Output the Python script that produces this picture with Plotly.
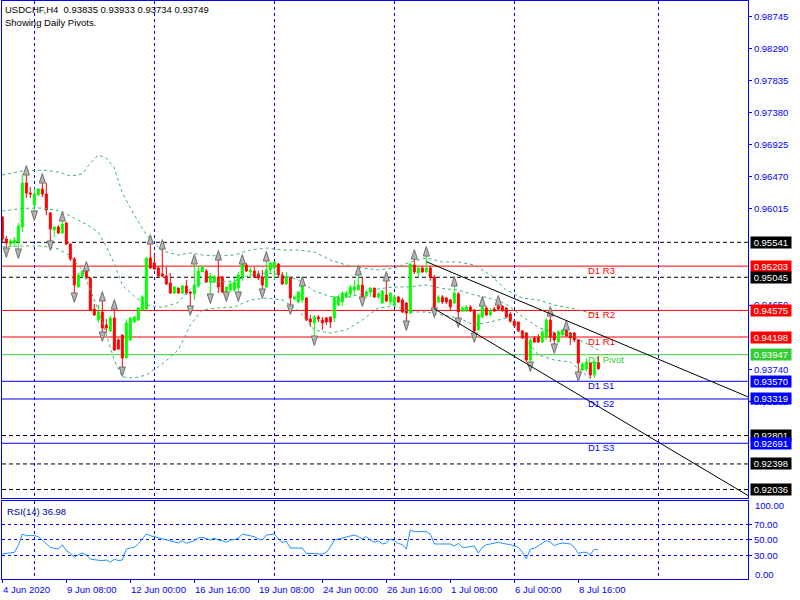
import plotly.graph_objects as go

# ---------------- data ----------------
bar_open = [
    0.95900, 0.95588, 0.95517, 0.95531, 0.95546, 0.95758, 0.96382, 0.96240, 0.96070, 0.96212,
    0.96297, 0.96226, 0.95957, 0.95716, 0.95758, 0.95673, 0.95815, 0.95517, 0.95304, 0.94907,
    0.95064, 0.95134, 0.95035, 0.94595, 0.94439, 0.94553, 0.94369, 0.94283, 0.94468, 0.94156,
    0.94227, 0.93900, 0.94156, 0.94411, 0.94439, 0.94581, 0.94595, 0.95318, 0.95248, 0.95177,
    0.95092, 0.95064, 0.94964, 0.94822, 0.94893, 0.94822, 0.94921, 0.94836, 0.94808, 0.94921,
    0.95120, 0.95134, 0.94978, 0.94978, 0.95049, 0.95049, 0.94837, 0.94865, 0.94865, 0.94893,
    0.95049, 0.95219, 0.95120, 0.95134, 0.95092, 0.95049, 0.94907, 0.95149, 0.95177, 0.95233,
    0.95078, 0.94950, 0.95035, 0.94737, 0.94695, 0.94723, 0.94751, 0.94453, 0.94397, 0.94482,
    0.94439, 0.94468, 0.94482, 0.94468, 0.94652, 0.94695, 0.94765, 0.94808, 0.94865, 0.94865,
    0.94936, 0.94780, 0.94836, 0.94893, 0.94765, 0.94680, 0.94794, 0.94695, 0.94652, 0.94765,
    0.94723, 0.94680, 0.94538, 0.95219, 0.95106, 0.95177, 0.95120, 0.95177, 0.95049, 0.94695,
    0.94765, 0.94751, 0.94723, 0.94680, 0.94808, 0.94567, 0.94567, 0.94624, 0.94581, 0.94298,
    0.94482, 0.94609, 0.94510, 0.94595, 0.94638, 0.94638, 0.94609, 0.94524, 0.94425, 0.94411,
    0.94283, 0.94255, 0.93872, 0.94184, 0.94198, 0.94127, 0.94198, 0.94439, 0.94255, 0.94127,
    0.94227, 0.94298, 0.94255, 0.94255, 0.94156, 0.93731, 0.93745, 0.93829, 0.93660, 0.93835,
]
bar_high = [
    0.95914, 0.95631, 0.95588, 0.95617, 0.95815, 0.96510, 0.96510, 0.96325, 0.96311, 0.96311,
    0.96396, 0.96382, 0.95971, 0.95772, 0.95787, 0.95857, 0.95829, 0.95531, 0.95332, 0.95106,
    0.95134, 0.95149, 0.95049, 0.94666, 0.94652, 0.94723, 0.94453, 0.94496, 0.94609, 0.94184,
    0.94227, 0.94453, 0.94482, 0.94496, 0.94624, 0.94794, 0.95332, 0.95531, 0.95361, 0.95205,
    0.95460, 0.95191, 0.95106, 0.94921, 0.94893, 0.94936, 0.95007, 0.94850, 0.95248, 0.95205,
    0.95219, 0.95163, 0.95106, 0.95078, 0.95304, 0.95064, 0.94907, 0.94978, 0.95035, 0.95120,
    0.95248, 0.95248, 0.95191, 0.95191, 0.95134, 0.95149, 0.95290, 0.95262, 0.95276, 0.95248,
    0.95120, 0.95120, 0.95049, 0.94794, 0.94850, 0.94936, 0.94765, 0.94510, 0.94510, 0.94510,
    0.94482, 0.94482, 0.94482, 0.94780, 0.94794, 0.94850, 0.94850, 0.94936, 0.95007, 0.95092,
    0.95035, 0.94865, 0.94907, 0.94893, 0.94836, 0.94865, 0.95007, 0.94836, 0.94794, 0.94780,
    0.94751, 0.94695, 0.95248, 0.95318, 0.95205, 0.95205, 0.95361, 0.95205, 0.95078, 0.94794,
    0.94794, 0.94765, 0.94737, 0.94936, 0.94836, 0.94638, 0.94652, 0.94652, 0.94595, 0.94538,
    0.94652, 0.94638, 0.94609, 0.94624, 0.94666, 0.94652, 0.94624, 0.94553, 0.94439, 0.94411,
    0.94298, 0.94269, 0.94184, 0.94212, 0.94240, 0.94298, 0.94468, 0.94510, 0.94269, 0.94298,
    0.94298, 0.94312, 0.94269, 0.94269, 0.94170, 0.93843, 0.93900, 0.93843, 0.93857, 0.93933,
]
bar_low = [
    0.95546, 0.95446, 0.95474, 0.95474, 0.95432, 0.95687, 0.96169, 0.96169, 0.95971, 0.96198,
    0.96184, 0.95928, 0.95546, 0.95617, 0.95659, 0.95659, 0.95503, 0.95276, 0.94808, 0.94907,
    0.95049, 0.95021, 0.94567, 0.94496, 0.94397, 0.94255, 0.94255, 0.94269, 0.93999, 0.94014,
    0.93758, 0.93900, 0.94142, 0.94397, 0.94425, 0.94581, 0.94581, 0.95163, 0.95149, 0.95049,
    0.95049, 0.94936, 0.94808, 0.94808, 0.94808, 0.94808, 0.94794, 0.94624, 0.94723, 0.94893,
    0.95120, 0.94964, 0.94794, 0.94964, 0.94822, 0.94822, 0.94822, 0.94837, 0.94837, 0.94822,
    0.94993, 0.95120, 0.95035, 0.95035, 0.95007, 0.94865, 0.94893, 0.95106, 0.95007, 0.95049,
    0.94936, 0.94936, 0.94638, 0.94723, 0.94680, 0.94680, 0.94425, 0.94340, 0.94198, 0.94411,
    0.94298, 0.94369, 0.94326, 0.94411, 0.94638, 0.94638, 0.94751, 0.94751, 0.94794, 0.94865,
    0.94751, 0.94765, 0.94765, 0.94751, 0.94737, 0.94666, 0.94695, 0.94652, 0.94624, 0.94680,
    0.94538, 0.94411, 0.94524, 0.95092, 0.95049, 0.95106, 0.95106, 0.94993, 0.94595, 0.94680,
    0.94666, 0.94666, 0.94581, 0.94666, 0.94453, 0.94553, 0.94553, 0.94553, 0.94241, 0.94283,
    0.94468, 0.94496, 0.94496, 0.94553, 0.94581, 0.94553, 0.94468, 0.94397, 0.94340, 0.94269,
    0.94170, 0.93843, 0.93829, 0.94113, 0.94113, 0.94113, 0.94156, 0.94127, 0.94085, 0.94113,
    0.94212, 0.94198, 0.94085, 0.94127, 0.93688, 0.93716, 0.93702, 0.93617, 0.93617, 0.93734,
]
bar_close = [
    0.95588, 0.95531, 0.95560, 0.95574, 0.95772, 0.96382, 0.96240, 0.96226, 0.96226, 0.96297,
    0.96226, 0.95999, 0.95730, 0.95758, 0.95673, 0.95801, 0.95517, 0.95304, 0.94936, 0.95078,
    0.95134, 0.95035, 0.94581, 0.94510, 0.94553, 0.94326, 0.94326, 0.94468, 0.94014, 0.94028,
    0.93900, 0.94397, 0.94468, 0.94482, 0.94609, 0.94765, 0.95318, 0.95177, 0.95163, 0.95064,
    0.95064, 0.94950, 0.94822, 0.94907, 0.94822, 0.94921, 0.94822, 0.94822, 0.94936, 0.95134,
    0.95191, 0.94978, 0.95064, 0.95049, 0.94907, 0.94837, 0.94907, 0.94950, 0.94978, 0.95078,
    0.95233, 0.95134, 0.95149, 0.95049, 0.95035, 0.94936, 0.95149, 0.95248, 0.95262, 0.95078,
    0.94950, 0.95049, 0.94751, 0.94765, 0.94836, 0.94921, 0.94439, 0.94411, 0.94482, 0.94453,
    0.94397, 0.94411, 0.94411, 0.94765, 0.94765, 0.94822, 0.94822, 0.94907, 0.94907, 0.94936,
    0.94765, 0.94836, 0.94893, 0.94765, 0.94808, 0.94850, 0.94709, 0.94822, 0.94765, 0.94695,
    0.94553, 0.94538, 0.95233, 0.95120, 0.95177, 0.95120, 0.95177, 0.95049, 0.94609, 0.94765,
    0.94695, 0.94695, 0.94624, 0.94822, 0.94553, 0.94609, 0.94624, 0.94567, 0.94283, 0.94510,
    0.94624, 0.94510, 0.94567, 0.94567, 0.94595, 0.94581, 0.94482, 0.94425, 0.94354, 0.94283,
    0.94184, 0.93872, 0.94156, 0.94127, 0.94127, 0.94269, 0.94439, 0.94198, 0.94156, 0.94269,
    0.94298, 0.94212, 0.94184, 0.94156, 0.93829, 0.93815, 0.93843, 0.93660, 0.93843, 0.93749,
]
bars = list(range(len(bar_open)))

# Bollinger bands (read at anchor bars)
bb_bars = [0, 5, 10, 14, 17, 20, 22, 24, 26, 28, 30, 33, 36, 40, 44, 47, 50, 54, 58, 62,
           66, 70, 74, 78, 82, 86, 90, 94, 98, 102, 106, 110, 114, 118, 122, 126, 130, 134, 138, 142,
           146, 149]
bb_upper = [0.96495, 0.96552, 0.96566, 0.96538, 0.96481, 0.96510, 0.96666, 0.96779, 0.96737, 0.96595,
            0.96240, 0.95928, 0.95645, 0.95418, 0.95361, 0.95390, 0.95361, 0.95347, 0.95361, 0.95432,
            0.95460, 0.95432, 0.95432, 0.95404, 0.95290, 0.95219, 0.95177, 0.95149, 0.95177, 0.95262,
            0.95318, 0.95262, 0.95262, 0.95219, 0.95078, 0.94865, 0.94751, 0.94723, 0.94652, 0.94610,
            0.94553, 0.94510]
bb_middle = [0.95985, 0.96021, 0.96028, 0.95992, 0.95914, 0.95830, 0.95766, 0.95680, 0.95482, 0.95234,
             0.94936, 0.94773, 0.94653, 0.94617, 0.94688, 0.94880, 0.94971, 0.94979, 0.94993, 0.95078,
             0.95106, 0.95078, 0.95007, 0.94851, 0.94773, 0.94759, 0.94808, 0.94880, 0.94908, 0.94908,
             0.94936, 0.94886, 0.94865, 0.94794, 0.94745, 0.94667, 0.94489, 0.94333, 0.94262, 0.94227,
             0.94107, 0.94014]
bb_lower = [0.95474, 0.95489, 0.95489, 0.95446, 0.95347, 0.95149, 0.94865, 0.94581, 0.94227, 0.93872,
            0.93631, 0.93617, 0.93660, 0.93815, 0.94014, 0.94369, 0.94581, 0.94610, 0.94624, 0.94723,
            0.94751, 0.94723, 0.94581, 0.94298, 0.94255, 0.94298, 0.94439, 0.94610, 0.94638, 0.94553,
            0.94553, 0.94510, 0.94468, 0.94369, 0.94411, 0.94468, 0.94227, 0.93943, 0.93872, 0.93843,
            0.93660, 0.93518]

fractal_up_bars = [6, 10, 15, 21, 25, 28, 37, 40, 48, 54, 60, 66, 75, 89, 96, 103, 106, 113, 120, 124, 137, 141]
fractal_down_bars = [1, 4, 8, 12, 18, 25, 30, 47, 52, 56, 59, 65, 72, 78, 90, 101, 108, 114, 118, 132, 138, 144]

rsi_bars = [0, 1, 3, 4, 5, 6, 7, 8, 9, 10, 12, 13, 14, 15, 16, 17, 18, 19, 20, 21,
            22, 23, 24, 25, 26, 27, 28, 29, 30, 31, 32, 33, 34, 35, 36, 37, 38, 40, 41, 43,
            44, 45, 46, 48, 49, 50, 51, 52, 53, 54, 55, 56, 57, 58, 59, 60, 61, 63, 64, 65,
            66, 68, 69, 70, 71, 72, 74, 75, 76, 77, 79, 80, 81, 82, 83, 84, 85, 87, 88, 89,
            90, 91, 92, 93, 94, 95, 96, 97, 98, 99, 100, 101, 102, 103, 104, 105, 106, 107, 108, 109,
            111, 112, 113, 114, 115, 116, 118, 119, 120, 121, 122, 123, 124, 125, 127, 129, 130, 131, 132, 133,
            134, 136, 137, 138, 139, 140, 142, 143, 144, 145, 146, 147, 148, 149]
rsi_values = [31.7, 32.6, 33.9, 42.6, 57.8, 55.7, 55.7, 55.7, 54.4, 50.0, 40.4, 39.1, 38.2, 43.9, 36.1, 32.6, 27.3, 30.8, 33.0, 30.4,
              25.2, 24.3, 23.9, 23.0, 23.9, 20.8, 25.2, 23.0, 23.9, 38.2, 39.5, 40.4, 44.8, 51.3, 57.8, 55.7, 54.4, 51.3, 50.0, 48.3,
              46.1, 49.1, 45.6, 49.1, 52.6, 53.5, 51.3, 50.0, 52.6, 50.0, 49.1, 47.0, 50.0, 50.4, 52.6, 57.8, 56.5, 54.4, 51.3, 50.0,
              56.5, 57.8, 51.3, 47.0, 48.3, 39.5, 39.5, 39.5, 32.6, 32.6, 32.6, 31.7, 33.9, 40.4, 50.0, 51.3, 52.6, 55.7, 56.5, 54.4,
              51.3, 54.4, 50.0, 47.0, 49.1, 44.8, 46.0, 51.3, 49.1, 45.6, 43.9, 38.2, 63.1, 60.9, 61.3, 61.0, 60.9, 57.8, 44.8, 44.8,
              44.8, 44.8, 42.2, 45.6, 40.4, 40.4, 42.2, 33.0, 40.4, 43.9, 44.8, 45.6, 47.0, 45.6, 43.9, 40.4, 34.0, 25.2, 38.2, 39.1,
              42.6, 49.1, 47.0, 42.6, 44.8, 46.1, 44.8, 40.4, 32.6, 33.9, 33.9, 30.8, 38.2, 36.98]

level_values = [0.95541, 0.95203, 0.95045, 0.94575, 0.94198, 0.93947, 0.93570, 0.93319, 0.92801, 0.92691, 0.92398, 0.92036]
level_names = ["", "R3", "", "R2", "R1", "Pivot", "S1", "S2", "", "S3", "", ""]

trend_bars = [[106, 186.4], [108, 186.4]]
trend_prices = [[0.95266, 0.93350], [0.94598, 0.91951]]

# price scale ticks that are not hidden behind the level boxes
price_ticks = [0.98745, 0.98290, 0.97835, 0.97380, 0.96925, 0.96470, 0.96015,
               0.94650, 0.93740, 0.93285]
rsi_ticks = [30, 50, 70]

x_label_bars = [0, 16, 32, 48, 64, 80, 96, 112, 128, 144]
x_label_text = ["4 Jun 2020", "9 Jun 08:00", "12 Jun 00:00", "16 Jun 16:00", "19 Jun 08:00",
                "24 Jun 00:00", "26 Jun 16:00", "1 Jul 08:00", "6 Jul 00:00", "8 Jul 16:00"]
week_grid_bars = [8, 38, 68, 98, 128, 164]

title_line1 = "USDCHF,H4  0.93835 0.93933 0.93734 0.93749"
title_line2 = "Showing Daily Pivots."
rsi_title = "RSI(14) 36.98"

# ---------------- style ----------------
FONT = "Liberation Sans, Arial, sans-serif"
FG = "#0000ff"
GREEN_LVL = "#32cd32"
X_RANGE = [-0.08, 186.42]
Y_RANGE = [0.91915, 0.98963]
MAIN_DOM = [0.14014, 1.0]
RSI_DOM = [0.0, 0.13495]
FRACTAL_OFFSET = 0.0012


def level_style(name):
    if name.startswith("R"):
        return "#ff0000", "solid"
    if name.startswith("S"):
        return "#0000ff", "solid"
    if name == "Pivot":
        return GREEN_LVL, "solid"
    return "#000000", "4px,3px"


fig = go.Figure()

# Bollinger bands
for band in (bb_upper, bb_middle, bb_lower):
    fig.add_trace(go.Scatter(x=bb_bars, y=band, mode="lines", xaxis="x", yaxis="y",
                             line=dict(color="#3cb371", width=1, dash="3px,3px"),
                             hoverinfo="skip"))

# candles
fig.add_trace(go.Candlestick(
    x=bars, open=bar_open, high=bar_high, low=bar_low, close=bar_close,
    xaxis="x", yaxis="y", whiskerwidth=0,
    increasing=dict(line=dict(color="#00ff00", width=1), fillcolor="#00ff00"),
    decreasing=dict(line=dict(color="#ff0000", width=1), fillcolor="#ff0000"),
    hoverinfo="skip"))

# fractals
fig.add_trace(go.Scatter(
    x=fractal_up_bars, y=[bar_high[k] + FRACTAL_OFFSET for k in fractal_up_bars],
    mode="markers", xaxis="x", yaxis="y", hoverinfo="skip",
    marker=dict(symbol="arrow", angle=0, size=10, color="#b4b4b4",
                line=dict(color="#6e6e6e", width=1))))
fig.add_trace(go.Scatter(
    x=fractal_down_bars, y=[bar_low[k] - FRACTAL_OFFSET for k in fractal_down_bars],
    mode="markers", xaxis="x", yaxis="y", hoverinfo="skip",
    marker=dict(symbol="arrow", angle=180, size=10, color="#b4b4b4",
                line=dict(color="#6e6e6e", width=1))))

# trend lines
for tb, tp in zip(trend_bars, trend_prices):
    fig.add_trace(go.Scatter(x=tb, y=tp, mode="lines", xaxis="x", yaxis="y",
                             line=dict(color="#000000", width=1), hoverinfo="skip"))

# RSI
fig.add_trace(go.Scatter(x=rsi_bars, y=rsi_values, mode="lines", xaxis="x2", yaxis="y2",
                         line=dict(color="#1e90ff", width=1), hoverinfo="skip"))

shapes = []
annotations = []
for v, name in zip(level_values, level_names):
    col, dash = level_style(name)
    shapes.append(dict(type="line", xref="x domain", x0=0, x1=1, yref="y", y0=v, y1=v,
                       line=dict(color=col, width=1, dash=dash), layer="below"))
    annotations.append(dict(xref="paper", x=1, xanchor="left", xshift=2, yref="y", y=v,
                            yanchor="middle", text=" %.5f " % v, showarrow=False,
                            bgcolor=col, borderpad=0,
                            font=dict(family=FONT, size=9.5, color="#ffffff")))
    if name:
        annotations.append(dict(xref="x", x=146, xanchor="left", yref="y", y=v, yanchor="top",
                                yshift=3, text="D1 " + name, showarrow=False,
                                font=dict(family=FONT, size=9.5, color=col)))

annotations.append(dict(xref="paper", x=0, xanchor="left", xshift=1, yref="paper", y=1,
                        yanchor="top", yshift=-1, text=title_line1, showarrow=False,
                        font=dict(family=FONT, size=9.5, color="#000000")))
annotations.append(dict(xref="paper", x=0, xanchor="left", xshift=1, yref="paper", y=1,
                        yanchor="top", yshift=-14, text=title_line2, showarrow=False,
                        font=dict(family=FONT, size=9.5, color="#000000")))
annotations.append(dict(xref="paper", x=0, xanchor="left", xshift=3, yref="paper", y=RSI_DOM[1],
                        yanchor="top", yshift=-3, text=rsi_title, showarrow=False,
                        font=dict(family=FONT, size=9.5, color="#0000a0")))
for v, shift in ((100, -4), (0, 4)):
    annotations.append(dict(xref="paper", x=1, xanchor="left", xshift=5, yref="y2", y=v,
                            yanchor="middle", yshift=shift, text="%.2f" % v, showarrow=False,
                            font=dict(family=FONT, size=9.5, color=FG)))
for b, t in zip(x_label_bars, x_label_text):
    annotations.append(dict(xref="x2", x=b, xanchor="left", xshift=-1, yref="paper", y=0,
                            yanchor="top", yshift=-3, text=t, showarrow=False,
                            font=dict(family=FONT, size=9.5, color=FG)))

axis_common = dict(showline=True, mirror=True, linecolor=FG, linewidth=1, zeroline=False,
                   fixedrange=True)

fig.update_layout(
    width=800, height=600,
    margin=dict(l=2, r=52, t=1, b=21),
    paper_bgcolor="#ffffff", plot_bgcolor="#ffffff",
    showlegend=False,
    font=dict(family=FONT, size=9.5, color=FG),
    xaxis=dict(domain=[0, 1], anchor="y", range=X_RANGE, tickmode="array", tickvals=week_grid_bars,
               showticklabels=False, ticks="", showgrid=True, gridcolor=FG, gridwidth=1,
               griddash="3px,3px", rangeslider=dict(visible=False), **axis_common),
    yaxis=dict(domain=MAIN_DOM, anchor="x", range=Y_RANGE, side="right", tickmode="array",
               tickvals=price_ticks, ticktext=["%.5f" % v for v in price_ticks],
               ticks="outside", ticklen=3, tickcolor=FG, showgrid=False,
               tickfont=dict(family=FONT, size=9.5, color=FG), **axis_common),
    xaxis2=dict(domain=[0, 1], anchor="y2", matches="x", range=X_RANGE, tickmode="array",
                tickvals=week_grid_bars, showticklabels=False, ticks="", showgrid=True,
                gridcolor=FG, gridwidth=1, griddash="3px,3px",
                minor=dict(tickmode="array", tickvals=x_label_bars, ticks="outside", ticklen=3,
                           tickcolor=FG, showgrid=False),
                **axis_common),
    yaxis2=dict(domain=RSI_DOM, anchor="x2", range=[-0.92, 100.92], side="right", tickmode="array",
                tickvals=rsi_ticks, ticktext=["%.2f" % v for v in rsi_ticks], ticks="outside",
                ticklen=3, tickcolor=FG, showgrid=True, gridcolor=FG, gridwidth=1,
                griddash="3px,3px", tickfont=dict(family=FONT, size=9.5, color=FG), **axis_common),
    shapes=shapes,
    annotations=annotations,
)

fig.write_html("out.html", config={"displayModeBar": False, "staticPlot": True},
               post_script="document.body.style.margin='0';")
